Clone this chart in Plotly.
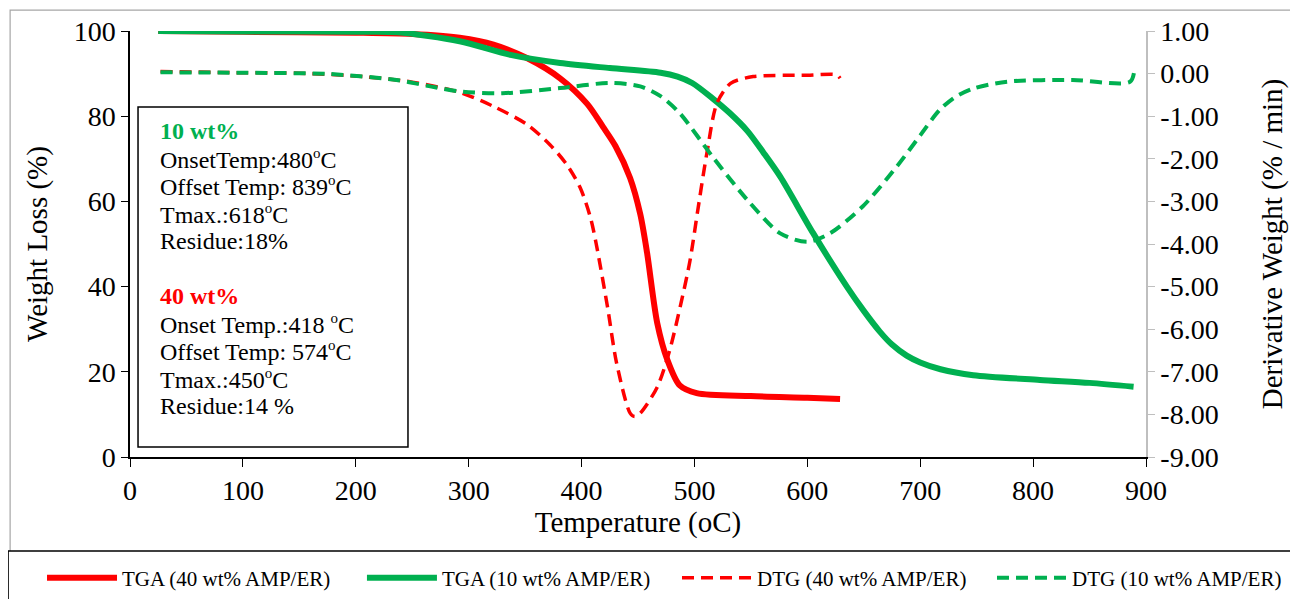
import plotly.graph_objects as go

# TGA curves (left axis, weight %)
tga40_t = [25, 100, 200, 250, 292, 322, 352, 381, 405, 419, 430, 443, 452, 458, 467, 476, 487, 502, 550, 600, 629]
tga40_w = [100, 99.8, 99.6, 99.3, 98.4, 96.8, 93.6, 88.9, 82.9, 77.5, 73.0, 65.5, 57.0, 48.0, 31.5, 22.8, 16.8,
           15.0, 14.3, 13.9, 13.6]

tga10_t = [25, 100, 200, 237, 292, 337, 381, 425, 470, 485, 498, 516, 531, 547, 561, 576, 605, 635, 650, 664,
           675, 688, 700, 718, 747, 806, 850, 889]
tga10_w = [100, 99.9, 99.8, 99.7, 97.6, 94.4, 92.5, 91.3, 90.2, 89.3, 87.8, 84.2, 80.8, 76.5, 71.5, 65.8, 52.6,
           40.0, 34.3, 29.5, 26.4, 23.8, 22.2, 20.6, 19.2, 18.1, 17.4, 16.5]

# DTG curves (right axis, %/min)
dtg40_t = [27, 100, 150, 206, 250, 292, 322, 352, 372, 387, 399, 408, 413, 423, 431, 443, 447, 452, 467, 478,
           488, 496, 503, 511, 520, 532, 552, 600, 626, 629]
dtg40_d = [0.05, 0.02, 0.01, -0.07, -0.2, -0.44, -0.77, -1.2, -1.67, -2.14, -2.69, -3.39, -4.0, -5.48, -6.79,
           -7.97, -8.05, -7.97, -7.36, -6.5, -5.4, -4.4, -3.2, -1.87, -0.69, -0.23, -0.07, -0.04, -0.03, -0.11]

dtg10_t = [27, 100, 177, 236, 266, 292, 330, 381, 425, 452, 470, 487, 516, 547, 576, 600, 620, 649, 679, 700,
           717, 731, 747, 777, 835, 886, 890]
dtg10_d = [0.03, 0.02, -0.01, -0.15, -0.3, -0.42, -0.46, -0.34, -0.22, -0.30, -0.53, -0.93, -1.95, -2.97, -3.75,
           -3.95, -3.75, -3.12, -2.19, -1.45, -0.86, -0.55, -0.35, -0.19, -0.15, -0.19, 0.16]

dtg_ticks = [1, 0, -1, -2, -3, -4, -5, -6, -7, -8, -9]
dtg_ticktext = ['%.2f' % v for v in dtg_ticks]

DEG = "<sup><span style='font-size:15px'>o</span></sup>"
box_lines = [
    "<b><span style='color:#00B050'>10 wt%</span></b>",
    "OnsetTemp:480" + DEG + "C",
    "Offset Temp: 839" + DEG + "C",
    "Tmax.:618" + DEG + "C",
    "Residue:18%",
    "",
    "<b><span style='color:#FF0000'>40 wt%</span></b>",
    "Onset Temp.:418 " + DEG + "C",
    "Offset Temp: 574" + DEG + "C",
    "Tmax.:450" + DEG + "C",
    "Residue:14 %",
]

RED = '#FF0000'
GREEN = '#00B050'
FONT = 'Liberation Serif'

fig = go.Figure()
fig.add_trace(go.Scatter(x=tga40_t, y=tga40_w, name='TGA (40 wt% AMP/ER)', mode='lines', legend='legend',
                         line=dict(color=RED, width=6, shape='spline', smoothing=0.8)))
fig.add_trace(go.Scatter(x=tga10_t, y=tga10_w, name='TGA (10 wt% AMP/ER)', mode='lines', legend='legend2',
                         line=dict(color=GREEN, width=6, shape='spline', smoothing=0.8)))
fig.add_trace(go.Scatter(x=dtg40_t, y=dtg40_d, name='DTG (40 wt% AMP/ER)', mode='lines', yaxis='y2',
                         legend='legend3',
                         line=dict(color=RED, width=3.5, dash='12px,7px', shape='spline', smoothing=0.8)))
fig.add_trace(go.Scatter(x=dtg10_t, y=dtg10_d, name='DTG (10 wt% AMP/ER)', mode='lines', yaxis='y2',
                         legend='legend4',
                         line=dict(color=GREEN, width=4, dash='12px,7px', shape='spline', smoothing=0.8)))

# text box lines, ~28 px apart, first centred 100 px below the plot top
for i, line in enumerate(box_lines):
    if not line:
        continue
    fig.add_annotation(xref='paper', yref='paper', x=28 / 1016, y=(426 - 100 - 27.5 * i) / 426,
                       xanchor='left', yanchor='middle', text=line, showarrow=False, align='left',
                       font=dict(family=FONT, size=24, color='black'))

# text box, outer chart border and legend box
fig.add_shape(type='rect', xref='paper', yref='paper', x0=0.0079, x1=0.2736, y0=0.0235, y1=0.8216,
              line=dict(color='black', width=1.5), fillcolor='rgba(0,0,0,0)')
fig.add_shape(type='rect', xref='paper', yref='paper', x0=-0.118, x1=1.2, y0=-0.5, y1=1.049,
              line=dict(color='#A6A6A6', width=1.2), layer='below')
fig.add_shape(type='rect', xref='paper', yref='paper', x0=-0.120, x1=1.2, y0=-0.5, y1=-0.2207,
              line=dict(color='black', width=1.5), fillcolor='white', layer='below')

legend_style = dict(orientation='h', y=-0.284, xanchor='left', yanchor='middle',
                    font=dict(family=FONT, size=21), itemwidth=70, bgcolor='rgba(0,0,0,0)')

fig.update_layout(
    width=1290, height=591,
    margin=dict(l=122, r=152, t=23, b=142, autoexpand=False),
    paper_bgcolor='white', plot_bgcolor='white',
    font=dict(family=FONT, color='black'),
    xaxis=dict(range=[0, 900], dtick=100, showline=True, linecolor='black', linewidth=1.5,
               ticks='outside', ticklen=8, tickcolor='black', tickfont=dict(size=28),
               title=dict(text='Temperature (oC)', font=dict(size=29), standoff=0),
               showgrid=False, zeroline=False),
    yaxis=dict(range=[0, 100], dtick=20, showline=True, linecolor='black', linewidth=1.5,
               ticks='outside', ticklen=7, tickcolor='black', tickfont=dict(size=28),
               title=dict(text='Weight Loss (%)', font=dict(size=29), standoff=18),
               showgrid=False, zeroline=False),
    yaxis2=dict(range=[-9, 1], tickvals=dtg_ticks, ticktext=dtg_ticktext, overlaying='y', side='right',
                showline=True, linecolor='#BFBFBF', linewidth=1.5,
                ticks='outside', ticklen=7, tickcolor='#BFBFBF', tickfont=dict(size=28),
                title=dict(text='Derivative Weight (% / min)', font=dict(size=29), standoff=44),
                showgrid=False, zeroline=False),
    legend=dict(x=-0.0866, **legend_style),
    legend2=dict(x=0.2283, **legend_style),
    legend3=dict(x=0.5384, **legend_style),
    legend4=dict(x=0.8484, **legend_style),
    showlegend=True,
)

fig.write_html('out.html')
